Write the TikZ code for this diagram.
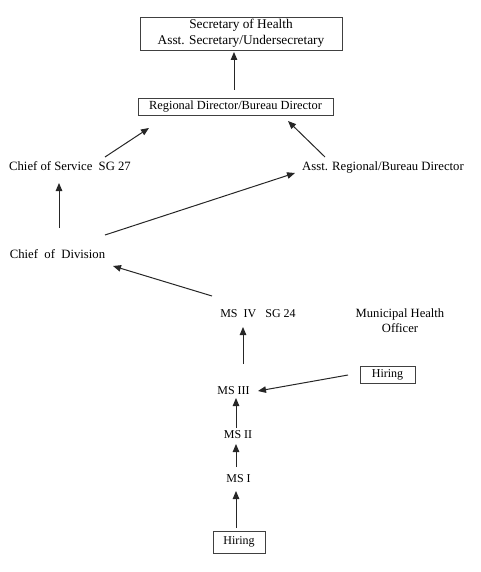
\documentclass[tikz,border=0pt]{standalone}
\usepackage{fontspec}
\setmainfont{Liberation Serif}
\usetikzlibrary{arrows.meta,calc}
\begin{document}
\begin{tikzpicture}[x=1pt,y=-1pt,
  lbl/.style={inner sep=0pt,text height=9pt,text depth=3pt,font=\fontsize{12}{14}\selectfont},
  biglbl/.style={lbl,font=\fontsize{12.7}{14}\selectfont},
  boxed/.style={draw=black!75,line width=0.8pt,inner sep=0pt,align=center},
  arr/.style={draw=black!85,line width=1pt,-{Triangle[length=8pt,width=6.5pt]}}]
\useasboundingbox (0,0) rectangle (481,572);
% nodes
\node[boxed,minimum width=202pt,minimum height=33pt,font=\fontsize{13.3}{16}\selectfont] (top) at (241,33.5) {Secretary of Health\\Asst. Secretary/Undersecretary};
\node[boxed,minimum width=195pt,minimum height=17pt,font=\fontsize{12.4}{13}\selectfont] (reg) at (235.5,106.5) {Regional Director/Bureau Director};
\node[biglbl] (cos) at (70,167) {Chief of Service\ \ SG 27};
\node[biglbl] (ard) at (383,167) {Asst. Regional/Bureau Director};
\node[biglbl] (cod) at (57.5,255) {Chief\ \ of\ \ Division};
\node[lbl] (ms4) at (258,314) {MS\ \ IV\ \ \ SG 24};
\node[inner sep=0pt,align=center,font=\fontsize{12.6}{15}\selectfont] (mho) at (400,321) {Municipal Health\\Officer};
\node[boxed,minimum width=55pt,minimum height=17pt,font=\fontsize{12}{14}\selectfont] (hir1) at (387.5,374.5) {Hiring};
\node[lbl] (ms3) at (233.5,391) {MS III};
\node[lbl] (ms2) at (238,435) {MS II};
\node[lbl] (ms1) at (238.5,479) {MS I};
\node[boxed,minimum width=52pt,minimum height=22pt,font=\fontsize{12}{14}\selectfont] (hir2) at (239,542) {Hiring};
% connectors
\draw[arr] ($(reg.center)+(-1.5,-16.5)$) -- ($(top.center)+(-7,18.5)$);
\draw[arr] ($(cos.center)+(35,-10)$) -- ($(reg.center)+(-86.5,21.5)$);
\draw[arr] ($(ard.center)+(-58,-10)$) -- ($(reg.center)+(52.5,14.5)$);
\draw[arr] ($(cod.center)+(1.5,-27)$) -- ($(cos.center)+(-11,16)$);
\draw[arr] ($(cod.center)+(47.5,-20)$) -- ($(ard.center)+(-88,6)$);
\draw[arr] ($(ms4.center)+(-46,-18)$) -- ($(cod.center)+(55.5,11)$);
\draw[arr] ($(ms3.center)+(9.5,-27)$) -- ($(ms4.center)+(-15,13)$);
\draw[arr] ($(hir1.center)+(-39.5,0.5)$) -- ($(ms3.center)+(24.5,0)$);
\draw[arr] ($(ms2.center)+(-2,-7)$) -- ($(ms3.center)+(2.5,7)$);
\draw[arr] ($(ms1.center)+(-2.5,-12)$) -- ($(ms2.center)+(-2,9)$);
\draw[arr] ($(hir2.center)+(-3,-14)$) -- ($(ms1.center)+(-2.5,12)$);
\end{tikzpicture}
\end{document}
